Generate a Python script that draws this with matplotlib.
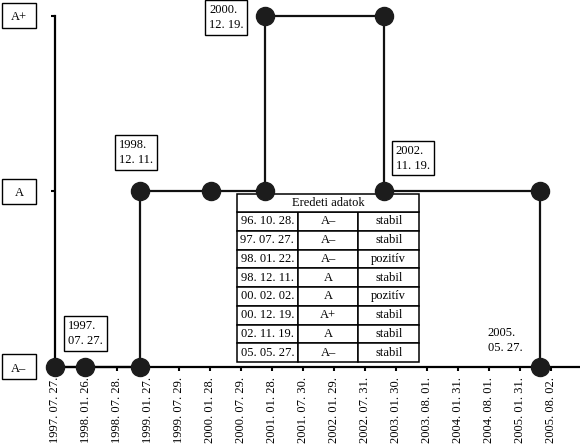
from datetime import date, timedelta
import matplotlib
matplotlib.use("Agg")
import matplotlib.pyplot as plt
from matplotlib.patches import Rectangle
from matplotlib.transforms import blended_transform_factory

plt.rcParams['font.family'] = ['Liberation Serif', 'DejaVu Serif']

# rating history (table + step line)
event_dates = [date(1996, 10, 28), date(1997, 7, 27), date(1998, 1, 22), date(1998, 12, 11),
               date(2000, 2, 2), date(2000, 12, 19), date(2002, 11, 19), date(2005, 5, 27)]
ratings = ['A–', 'A–', 'A–', 'A', 'A', 'A+', 'A', 'A–']
outlook = ['stabil', 'stabil', 'pozitív', 'stabil', 'pozitív', 'stabil', 'stabil', 'stabil']
levels = ['A–', 'A', 'A+']

tick_dates = [date(1997, 7, 27), date(1998, 1, 26), date(1998, 7, 28), date(1999, 1, 27),
              date(1999, 7, 29), date(2000, 1, 28), date(2000, 7, 29), date(2001, 1, 28),
              date(2001, 7, 30), date(2002, 1, 29), date(2002, 7, 31), date(2003, 1, 30),
              date(2003, 8, 1), date(2004, 1, 31), date(2004, 8, 1), date(2005, 1, 31),
              date(2005, 8, 2)]

x_start = date(1997, 7, 27)
x_end = date(2006, 1, 20)

# annotated events: date, offset (pt), boxed
notes = [(date(1997, 7, 27), (22, 24), True),
         (date(1998, 12, 11), (-3, 28), True),
         (date(2000, 12, 19), (-28, -1), True),
         (date(2002, 11, 19), (21, 24), True),
         (date(2005, 5, 27), (-25, 19), False)]

fig = plt.figure(figsize=(5.8, 4.44), dpi=100)
ax = fig.add_axes([55/580, 77/444, 525/580, 367/444])

# only events inside the axis range
xs = [d for d in event_dates if d >= x_start]
ys = [levels.index(r) for d, r in zip(event_dates, ratings) if d >= x_start]

ax.step(xs, ys, where='post', color='#111111', lw=1.6, zorder=2, clip_on=False)

# dots: each event, plus the old level where the rating changed
dx, dy = list(xs), list(ys)
for i in range(1, len(xs)):
    if ys[i] != ys[i-1]:
        dx.append(xs[i])
        dy.append(ys[i-1])
ax.plot(dx, dy, 'o', color='#1c1c1c', ms=13, zorder=6, clip_on=False)

lvl_of = dict(zip(xs, ys))
for d, off, boxed in notes:
    bbox = dict(boxstyle='square,pad=0.3', fc='white', ec='black', lw=1) if boxed else None
    ax.annotate(d.strftime('%Y.\n%m. %d.'), (d, lvl_of[d]), xytext=off,
                textcoords='offset points', ha='center', va='center',
                multialignment='left', fontsize=9, linespacing=1.35,
                bbox=bbox, zorder=7)

ax.set_xlim(x_start, x_end)
ax.set_ylim(0, 2.091)

ax.set_xticks(tick_dates)
ax.set_xticklabels([d.strftime('%Y. %m. %d.') for d in tick_dates], rotation=90,
                   fontsize=9, va='top')
ax.tick_params(axis='x', direction='out', length=3, width=1.5, pad=4)

ax.set_yticks(range(len(levels)))
ax.set_yticklabels(levels, fontsize=9, ha='center')
ax.tick_params(axis='y', direction='out', length=3, width=1.5, pad=23)

trans = blended_transform_factory(ax.transAxes, ax.transData)
for i in range(len(levels)):
    ax.add_patch(Rectangle((-53/525, i - 0.0712), 34/525, 0.1425, transform=trans,
                           fill=False, ec='black', lw=1, clip_on=False))

for s in ['top', 'right']:
    ax.spines[s].set_visible(False)
ax.spines['left'].set_bounds(0, 2)
ax.spines['left'].set_linewidth(1.6)
ax.spines['bottom'].set_linewidth(1.6)

# table of original data
rows = [[d.strftime('%y. %m. %d.'), r, o] for d, r, o in zip(event_dates, ratings, outlook)]
tab = ax.table(cellText=rows, cellLoc='center', bbox=[0.3467, 0.0136, 0.3467, 0.4087])
tab.auto_set_font_size(False)
tab.set_fontsize(9)
tab.set_zorder(4)
for c in tab.get_celld().values():
    c.set_linewidth(1.1)

head = ax.table(cellText=[['Eredeti adatok']], cellLoc='center',
                bbox=[0.3467, 0.4223, 0.3467, 0.049])
head.auto_set_font_size(False)
head.set_fontsize(9)
head.set_zorder(4)
for c in head.get_celld().values():
    c.set_linewidth(1.1)

fig.savefig('out.png', dpi=100)
